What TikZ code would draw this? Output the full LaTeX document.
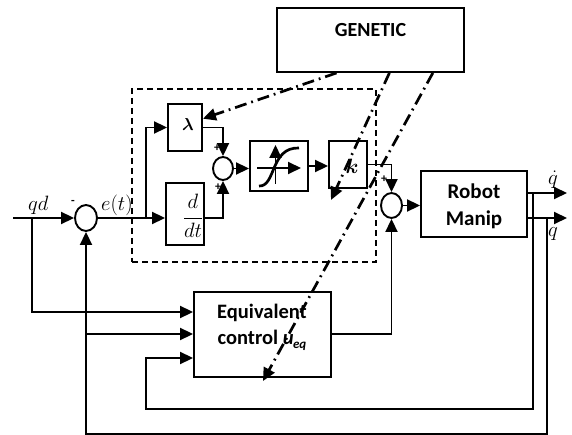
\documentclass[tikz,border=0pt]{standalone}
\usepackage{fontspec}
\setmainfont{Carlito}
\usepackage{bm}
\usetikzlibrary{shapes.geometric,arrows.meta,calc}
\begin{document}
\begin{tikzpicture}[x=1pt,y=-1pt,
  arr/.style={line width=1.9pt,-{Triangle[length=13pt,width=12pt]}},
  blk/.style={draw,line width=1.9pt,inner sep=0pt,rectangle},
  sumc/.style={draw,line width=1.9pt,ellipse,inner sep=0pt,minimum width=21pt,minimum height=25pt},
  ga/.style={line width=2.7pt,dash pattern=on 12pt off 5pt on 1.8pt off 5pt,-{Triangle[length=13pt,width=12pt]}},
  grpbox/.style={draw,line width=1.5pt,dash pattern=on 6pt off 4pt,inner sep=0pt,rectangle},
  btxt/.style={font=\fontsize{20.5}{24}\selectfont\bfseries,align=center,inner sep=0pt},
  mtxt/.style={font=\fontsize{20}{22}\selectfont,inner sep=0pt},
  sgn/.style={font=\fontsize{12}{12}\selectfont\bfseries,inner sep=0pt}]
\useasboundingbox (0,0) rectangle (572,435);

% blocks
\node[grpbox,minimum width=244pt,minimum height=173pt] (grp) at (254,175.5) {};
\node[blk,minimum width=187pt,minimum height=64pt] (genetic) at (370.5,40) {};
\node[btxt,font=\fontsize{20}{24}\selectfont\bfseries] (gentxt) at (370.5,30) {GENETIC};
\node[blk,minimum width=34pt,minimum height=47pt] (lam) at (185,127.5) {};
\node[mtxt,font=\fontsize{19}{20}\selectfont] (lamtxt) at (188,125) {$\bm{\lambda}$};
\node[blk,minimum width=38pt,minimum height=62pt] (ddt) at (185,214) {};
\node[mtxt,anchor=base] (ddttxt) at (193,223) {$\displaystyle\frac{d}{dt}$};
\node[sumc,minimum width=20pt,minimum height=23pt] (s1) at (223,168.5) {};
\node[blk,minimum width=58pt,minimum height=50pt] (sat) at (279,166) {};
\node[blk,minimum width=38pt,minimum height=47pt] (k) at (348,164.5) {};
\node[mtxt,font=\fontsize{20}{20}\selectfont] (ktxt) at (352,166) {$\bm{k}$};
\node[sumc,minimum width=22pt,minimum height=26pt] (s0) at (86,218) {};
\node[sumc] (s2) at (391.5,205.5) {};
\node[blk,minimum width=106pt,minimum height=66pt] (robot) at (474,204) {};
\node[btxt,font=\fontsize{21}{27}\selectfont\bfseries] (robtxt) at (474,206) {Robot\\Manip};
\node[blk,minimum width=137pt,minimum height=85pt] (eq) at (262.5,334.5) {};
\node[btxt] (eqtxt) at (262,327) {Equivalent\\[2pt]control {\itshape u\kern-0.5pt\raisebox{-4pt}{\fontsize{13}{13}\selectfont eq}}};

% saturation symbol
\coordinate (satL) at (257,168);
\coordinate (satR) at (301,168);
\coordinate (satB) at (275.5,184);
\coordinate (satT) at (275.5,145);
\draw[arr] (satL) -- (satR);
\draw[arr] (satB) -- (satT);
\draw[line width=2.7pt] (259,186) .. controls (276,187) and (270,147) .. (299,148);

% labels
\node[mtxt,anchor=base west] (qdl) at (28,211) {$qd$};
\node[mtxt,anchor=base west] (etl) at (101,211) {$e(t)$};
\node[mtxt,anchor=base west] (qdotl) at (548,185) {$\dot{q}$};
\node[mtxt,anchor=base west] (ql) at (548,237) {$q$};
\node[sgn] (m0) at (73,202) {-};
\node[sgn] (p1) at (217,148) {+};
\node[sgn] (p2) at (218,187) {+};
\node[sgn] (p3) at (384,179) {+};

% coordinates
\coordinate (qdin) at (13,218);
\coordinate (b0) at (32,218);
\coordinate (b1) at (146,218);
\coordinate (e1) at (32,312);
\coordinate (b2) at (86,334);
\coordinate (e3) at (146,358);
\coordinate (qdotout) at (567,193);
\coordinate (qout) at (567,218);
\coordinate (fbA) at (533,193);
\coordinate (fbB) at (547,218);
\coordinate (loopA) at (146,409);
\coordinate (loopB) at (86,434);

% main signal path
\draw[arr] (qdin) -- (s0.west);
\draw[arr] (s0.east) -- (ddt.west |- s0.east);
\draw[arr] (b1) |- (lam.west);
\draw[arr] (lam.east) -| (s1.north);
\draw[arr] (ddt.east |- b1) -| (s1.south);
\draw[arr] (s1.east) -- (sat.west |- s1.east);
\draw[arr] (sat.east) -- (k.west |- sat.east);
\draw[arr] (k.east) -| (s2.north);
\draw[arr] (s2.east) -- (robot.west |- s2.east);
\draw[arr] (qdotout -| robot.east) -- (qdotout);
\draw[arr] (qout -| robot.east) -- (qout);

% feedback
\draw[arr] (b0) |- (eq.west |- e1);
\draw[arr] (b2) -- (eq.west |- b2);
\draw[arr] (fbA) |- (loopA) |- (eq.west |- e3);
\draw[arr] (fbB) |- (loopB) -- (s0.south);
\draw[arr] (eq.east |- b2) -| (s2.south);

% genetic tuning
\coordinate (t2) at (331,200);
\coordinate (t3) at (263,381);
\draw[ga] ($(genetic.south west)!0.32!(genetic.south east)$) -- ($(lam.north east)!0.32!(lam.south east)$);
\draw[ga] ($(genetic.south west)!0.60!(genetic.south east)$) -- (t2);
\draw[ga] ($(genetic.south west)!0.83!(genetic.south east)$) -- (t3);
\end{tikzpicture}
\end{document}
